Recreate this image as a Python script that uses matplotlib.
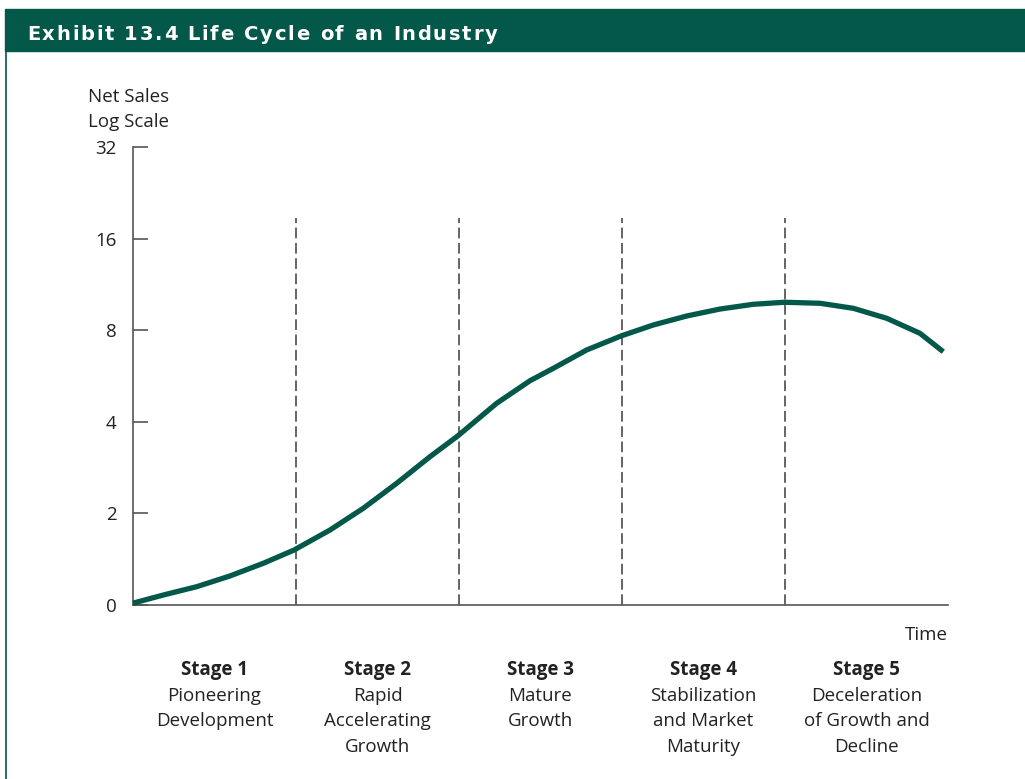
import numpy as np
import matplotlib.pyplot as plt
from matplotlib.patches import Rectangle
from matplotlib.lines import Line2D
from matplotlib.font_manager import FontProperties

plt.rcParams['font.family'] = ['Open Sans', 'DejaVu Sans']

# Curva (x en etapas, y en log2 de ventas)
tiempo = [0, 0.186, 0.391, 0.595, 0.799, 0.988, 1.209, 1.413, 1.618, 1.822,
          1.992, 2.231, 2.436, 2.579, 2.783, 2.994, 3.192, 3.397, 3.601,
          3.806, 3.996, 4.215, 4.419, 4.624, 4.828, 4.971]
ventas_log = [0.02, 0.109, 0.200, 0.317, 0.455, 0.600, 0.819, 1.056, 1.329, 1.619,
              1.845, 2.202, 2.449, 2.584, 2.784, 2.937, 3.057, 3.155, 3.231,
              3.283, 3.305, 3.294, 3.239, 3.130, 2.966, 2.765]

y_ticks = [0, 1, 2, 3, 4, 5]
y_labels = ['0', '2', '4', '8', '16', '32']
limites = [1, 2, 3, 4]
centros = [0.5, 1.5, 2.5, 3.5, 4.5]
titulos = ['Stage 1', 'Stage 2', 'Stage 3', 'Stage 4', 'Stage 5']
descripciones = [
    ['Pioneering', 'Development'],
    ['Rapid', 'Accelerating', 'Growth'],
    ['Mature', 'Growth'],
    ['Stabilization', 'and Market', 'Maturity'],
    ['Deceleration', 'of Growth and', 'Decline'],
]
titulo = 'Exhibit 13.4 Life Cycle of an Industry'

verde = '#03584A'
gris = '#3a3a3a'
texto = '#222222'
fs = 13.5

W, H = 1025, 779
fig = plt.figure(figsize=(W / 100, H / 100), dpi=100)

# Barra del título y borde izquierdo
fig.patches.append(Rectangle((5 / W, 1 - 51 / H), 1 - 5 / W, 42 / H,
                             transform=fig.transFigure, color=verde, zorder=0))
fig.lines.append(Line2D([5.5 / W, 5.5 / W], [0, 1 - 51 / H], transform=fig.transFigure,
                        color=verde, linewidth=1.2))

# título con espaciado entre letras
fp = FontProperties(family='DejaVu Sans', weight='bold', size=14)
renderer = fig.canvas.get_renderer()
ancho_total = renderer.get_text_width_height_descent(titulo, fp, ismath=False)[0]
espacio = (470 - ancho_total) / (len(titulo) - 1)
for i, ch in enumerate(titulo):
    if ch == ' ':
        continue
    w = renderer.get_text_width_height_descent(titulo[:i], fp, ismath=False)[0] if i else 0
    fig.text((27 + w + i * espacio) / W, 1 - 34 / H, ch, color='white',
             fontproperties=fp, va='center', ha='left')

ax = fig.add_axes([133 / W, 1 - 605 / H, 815 / W, 458 / H])
ax.set_xlim(0, 5)
ax.set_ylim(0, 5)

ax.plot(tiempo, ventas_log, color=verde, linewidth=3.8, solid_capstyle='butt',
        solid_joinstyle='round', clip_on=False, zorder=3)
ax.vlines(limites, 0, 4.22, colors=gris, linewidth=1.1, linestyles=(0, (7, 3)))

for s in ['top', 'right']:
    ax.spines[s].set_visible(False)
for s in ['left', 'bottom']:
    ax.spines[s].set_color('#555555')
    ax.spines[s].set_linewidth(1.2)

ax.set_xticks([])
ax.set_yticks(y_ticks)
ax.set_yticklabels(y_labels, fontsize=fs, color=texto)
ax.tick_params(axis='y', direction='in', length=11, width=1.2, color='#555555', pad=12)

ax.text(-0.276, 5.55, 'Net Sales', fontsize=fs, color=texto, ha='left', va='center')
ax.text(-0.276, 5.27, 'Log Scale', fontsize=fs, color=texto, ha='left', va='center')
ax.text(5, -0.33, 'Time', fontsize=fs, color=texto, ha='right', va='center')

paso = 25.5 / 91.6
for c, t, d in zip(centros, titulos, descripciones):
    y0 = -0.71
    ax.text(c, y0, t, fontsize=fs, fontweight='bold', color=texto,
            ha='center', va='center', clip_on=False)
    for i, linea in enumerate(d):
        ax.text(c, y0 - paso * (i + 1), linea, fontsize=fs, color=texto,
                ha='center', va='center', clip_on=False)

plt.savefig('out.png', dpi=100)
